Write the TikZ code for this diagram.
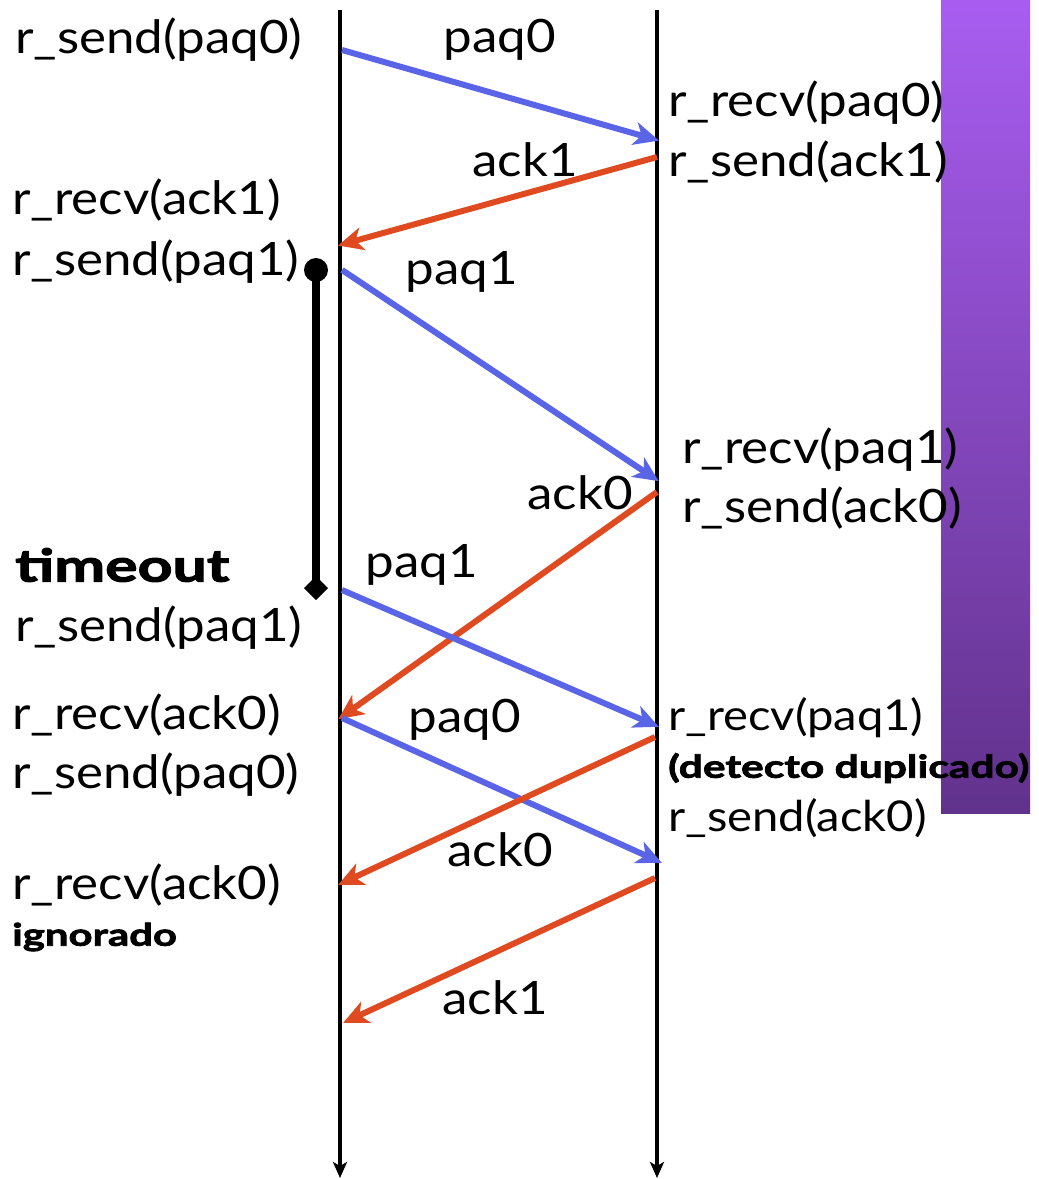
\documentclass[tikz,border=0pt]{standalone}
\usepackage{fontspec}
\setmainfont{Lato}[FakeStretch=1.11]
\newfontfamily\heavyfont{Lato}[FakeStretch=1.35, BoldFeatures={FakeBold=2.5}]
\usetikzlibrary{arrows.meta}
\definecolor{msgblue}{RGB}{90,100,230}
\definecolor{msgred}{RGB}{224,74,32}
\definecolor{ptop}{RGB}{168,93,240}
\definecolor{pbot}{RGB}{97,50,140}
\tikzset{
  life/.style={line width=4, -{Stealth[length=16,width=14,inset=4]}},
  pkt/.style={line width=6, msgblue, -{Stealth[length=25,width=23,inset=7]}, shorten >=-2},
  ackm/.style={line width=6, msgred, -{Stealth[length=25,width=23,inset=7]}, shorten >=-2},
  lbl/.style={font=\fontsize{46}{50}\selectfont, inner sep=0},
  lbls/.style={font=\fontsize{42.5}{46}\selectfont, inner sep=0},
  blbl/.style={font=\fontsize{31}{34}\selectfont\heavyfont\bfseries, inner sep=0},
}
\begin{document}
\begin{tikzpicture}[x=1pt,y=-1pt]
\useasboundingbox (0,0) rectangle (1039,1179);
\shade[top color=ptop, bottom color=pbot] (941,0) rectangle (1030,813);
% lifelines
\coordinate (L0) at (340,10); \coordinate (L1) at (340,1178);
\coordinate (R0) at (657,10); \coordinate (R1) at (657,1178);
\draw[life] (L0) -- (L1);
\draw[life] (R0) -- (R1);
% endpoints
\coordinate (a1) at (342,50);  \coordinate (b1) at (657,140);
\coordinate (a2) at (657,157); \coordinate (b2) at (340,245);
\coordinate (a3) at (342,270); \coordinate (b3) at (657,480);
\coordinate (a4) at (657,492); \coordinate (b4) at (340,718);
\coordinate (a5) at (342,590); \coordinate (b5) at (657,726);
\coordinate (a6) at (342,718); \coordinate (b6) at (660,862);
\coordinate (a7) at (655,737); \coordinate (b7) at (340,884);
\coordinate (a8) at (655,878); \coordinate (b8) at (345,1022);
\draw[pkt] (a1) -- (b1);
\draw[ackm] (a2) -- (b2);
\draw[pkt] (a3) -- (b3);
\draw[ackm] (a4) -- (b4);
\draw[pkt] (a5) -- (b5);
\draw[pkt] (a6) -- (b6);
\draw[ackm] (a7) -- (b7);
\draw[ackm] (a8) -- (b8);
% timeout bar
\coordinate (t0) at (316,270); \coordinate (t1) at (316,588);
\draw[line width=8] (t0) -- (t1);
\fill (t0) circle (12);
\fill (316,576) -- (328,588) -- (316,600) -- (304,588) -- cycle;
% message labels
\node[lbl] (m1) at (500,40) {paq0};
\node[lbl] (m2) at (525,160) {ack1};
\node[lbl] (m3) at (462,272) {paq1};
\node[lbl] (m4) at (580,493) {ack0};
\node[lbl] (m5) at (422,565) {paq1};
\node[lbl] (m6) at (465,720) {paq0};
\node[lbl] (m7) at (500,850) {ack0};
\node[lbl] (m8) at (495,998) {ack1};
% left labels
\node[lbl,anchor=west] (l1) at (15,40) {r\_send(paq0)};
\node[lbl,anchor=west] (l2) at (12,200) {r\_recv(ack1)};
\node[lbl,anchor=west] (l3) at (12,262) {r\_send(paq1)};
\node[blbl,anchor=west, font=\fontsize{45}{48}\selectfont\heavyfont\bfseries] (l4) at (15,565) {timeout};
\node[lbl,anchor=west] (l5) at (15,628) {r\_send(paq1)};
\node[lbl,anchor=west] (l6) at (12,715) {r\_recv(ack0)};
\node[lbl,anchor=west] (l7) at (12,775) {r\_send(paq0)};
\node[lbl,anchor=west] (l8) at (12,885) {r\_recv(ack0)};
\node[blbl,anchor=west] (l9) at (12,937) {ignorado};
% right labels
\node[lbl,anchor=west] (r1) at (668,103) {r\_recv(paq0)};
\node[lbl,anchor=west] (r2) at (668,162) {r\_send(ack1)};
\node[lbl,anchor=west] (r3) at (682,450) {r\_recv(paq1)};
\node[lbl,anchor=west] (r4) at (682,508) {r\_send(ack0)};
\node[lbls,anchor=west] (r5) at (668,718) {r\_recv(paq1)};
\node[blbl,anchor=west, font=\fontsize{31.5}{34}\selectfont\heavyfont\bfseries] (r6) at (668,768) {(detecto duplicado)};
\node[lbls,anchor=west] (r7) at (668,818) {r\_send(ack0)};
\end{tikzpicture}
\end{document}
